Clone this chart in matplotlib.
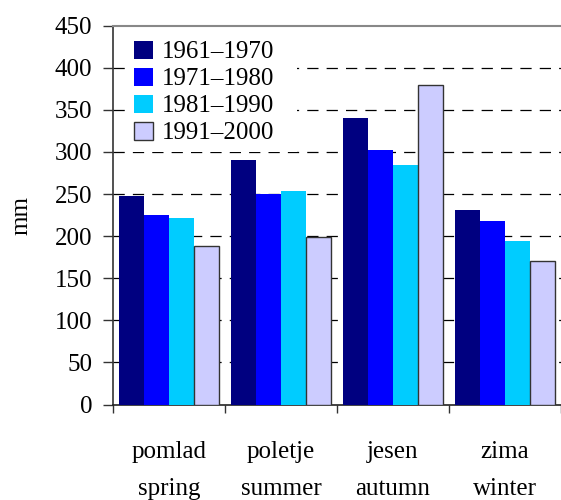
import matplotlib
matplotlib.use("Agg")
import matplotlib.pyplot as plt
import numpy as np

seasons = ["pomlad\nspring", "poletje\nsummer", "jesen\nautumn", "zima\nwinter"]
periods = ["1961–1970", "1971–1980", "1981–1990", "1991–2000"]
v_1961_1970 = [248, 291, 340, 231]
v_1971_1980 = [225, 250, 302, 218]
v_1981_1990 = [222, 254, 285, 194]
v_1991_2000 = [188, 199, 380, 171]
series = [v_1961_1970, v_1971_1980, v_1981_1990, v_1991_2000]
colors = ["#000080", "#0000FF", "#00CCFF", "#CCCCFF"]
edges = ["none", "none", "none", "#333333"]
yticks = [0, 50, 100, 150, 200, 250, 300, 350, 400, 450]

plt.rcParams['font.family'] = ['Liberation Serif', 'DejaVu Serif']
fs = 18

fig = plt.figure(figsize=(5.61, 5.0), dpi=100)
ax = fig.add_axes([113/561, 95.5/500, 448/561, (404.5-25.7)/500])

x = np.arange(len(seasons))
bw = 0.224
for i, (vals, c, ec) in enumerate(zip(series, colors, edges)):
    ax.bar(x + (i - 1.5) * bw, vals, width=bw, color=c, edgecolor=ec,
           linewidth=1.0 if ec != "none" else 0, label=periods[i], zorder=3)

ax.set_ylim(0, 450)
ax.set_xlim(-0.5, -0.5 + 448/112.5)
ax.set_yticks(yticks)
ax.set_yticklabels([str(t) for t in yticks], fontsize=fs)
ax.tick_params(axis='y', direction='out', length=7, width=1, pad=8, color='#333333')

ax.set_xticks(np.arange(len(seasons) + 1) - 0.5)
ax.set_xticklabels([])
ax.tick_params(axis='x', which='major', direction='out', length=6, width=1, color='#333333')
ax.set_xticks(x, minor=True)
ax.set_xticklabels(seasons, minor=True, fontsize=fs, linespacing=1.9)
ax.tick_params(axis='x', which='minor', length=0, pad=26)

for t in yticks[1:-1]:
    ax.axhline(t, color='black', lw=0.9, linestyle=(0, (9, 6.5)), zorder=1)

ax.spines['right'].set_visible(False)
ax.spines['top'].set_color('#888888')
ax.spines['top'].set_linewidth(1.5)
ax.spines['left'].set_color('#333333')
ax.spines['left'].set_linewidth(1.2)
ax.spines['bottom'].set_color('#222222')
ax.spines['bottom'].set_linewidth(1.2)

ax.set_ylabel("mm", fontsize=fs, labelpad=16)

leg = ax.legend(loc='upper left', bbox_to_anchor=(0.0078, 0.0, 0.425, 1.0066),
                mode='expand', fontsize=fs,
                frameon=True, facecolor='white', edgecolor='none', framealpha=1,
                fancybox=False, handlelength=0.75, handleheight=0.73,
                handletextpad=0.35, labelspacing=0.17, borderpad=0.3, borderaxespad=0.4)
leg.set_zorder(5)

fig.savefig("out.png", dpi=100)
